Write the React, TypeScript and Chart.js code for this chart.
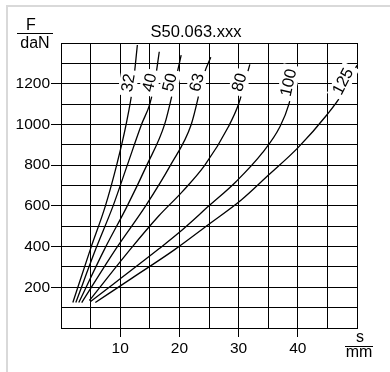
import React, { useEffect, useRef } from "react";
import { Chart, registerables } from "chart.js";
Chart.register(...registerables);

const chartTitle = "S50.063.xxx";
const yAxisTop = "F";
const yAxisBottom = "daN";
const xAxisTop = "s";
const xAxisBottom = "mm";

const xTickLabels = [10, 20, 30, 40];
const yTickLabels = [200, 400, 600, 800, 1000, 1200];

const bores = ["32", "40", "50", "63", "80", "100", "125"];

const s32 = [2.0, 5.0, 7.5, 9.4, 11.0, 12.2, 12.9];
const f32 = [125, 390, 600, 800, 1000, 1200, 1390];

const s40 = [2.5, 5.9, 8.8, 11.2, 13.6, 15.0, 15.8, 16.6];
const f40 = [125, 390, 600, 800, 1000, 1100, 1200, 1357];

const s50 = [3.0, 7.4, 11.2, 14.5, 17.5, 19.2, 20.3];
const f50 = [125, 390, 600, 800, 1000, 1200, 1340];

const s63 = [3.5, 9.3, 14.3, 18.5, 22.0, 24.2, 25.3];
const f63 = [125, 390, 600, 800, 1000, 1250, 1330];

const s80 = [4.8, 11.8, 16.5, 20.5, 24.3, 28.3, 30.0, 31.9];
const f80 = [135, 390, 550, 670, 800, 990, 1100, 1295];

const s100 = [5.0, 16.6, 20.0, 25.0, 29.6, 34.0, 37.0, 38.5, 39.8];
const f100 = [130, 390, 470, 600, 720, 860, 990, 1100, 1270];

const s125 = [5.8, 12.0, 19.2, 25.0, 30.5, 35.0, 40.0, 45.0, 47.5, 50.0];
const f125 = [125, 245, 385, 510, 630, 750, 885, 1050, 1150, 1290];

const strokes = [s32, s40, s50, s63, s80, s100, s125];
const forces = [f32, f40, f50, f63, f80, f100, f125];

const LABEL_AT = 1200;
const FONT = "'Liberation Sans', Arial, Helvetica, sans-serif";

const curveLabels = {
  id: "curveLabels",
  afterDatasetsDraw(chart: any) {
    const { ctx } = chart;
    const xs = chart.scales.x;
    const ys = chart.scales.y;
    chart.data.datasets.forEach((ds: any) => {
      const pts = ds.data as { x: number; y: number }[];
      let k = pts.findIndex((p) => p.y >= LABEL_AT);
      if (k < 1) k = pts.length - 1;
      const a = pts[k - 1];
      const b = pts[k];
      const t = (LABEL_AT - a.y) / (b.y - a.y);
      const xv = a.x + t * (b.x - a.x);
      const px = xs.getPixelForValue(xv);
      const py = ys.getPixelForValue(LABEL_AT);
      const ang = Math.atan2(
        ys.getPixelForValue(b.y) - ys.getPixelForValue(a.y),
        xs.getPixelForValue(b.x) - xs.getPixelForValue(a.x)
      );
      ctx.save();
      ctx.translate(px, py);
      ctx.rotate(ang);
      ctx.font = `16.5px ${FONT}`;
      const w = ctx.measureText(ds.label).width;
      ctx.fillStyle = "#fff";
      ctx.fillRect(-w / 2 - 4, -14, w + 8, 18);
      ctx.fillStyle = "#000";
      ctx.textAlign = "center";
      ctx.textBaseline = "alphabetic";
      ctx.fillText(ds.label, 0, 0);
      ctx.restore();
    });
  },
};

const axisTexts = {
  id: "axisTexts",
  afterDraw(chart: any) {
    const { ctx, chartArea } = chart;
    const { left, top, right, bottom } = chartArea;
    ctx.save();
    ctx.fillStyle = "#000";
    ctx.strokeStyle = "#000";
    ctx.lineWidth = 1;
    ctx.textAlign = "center";
    ctx.font = `16.5px ${FONT}`;
    ctx.textBaseline = "alphabetic";
    ctx.fillText(chartTitle, left + 135, top - 6);
    ctx.font = `16px ${FONT}`;
    ctx.textBaseline = "middle";
    ctx.fillText(yAxisTop, left - 30, top - 17);
    ctx.beginPath();
    ctx.moveTo(left - 44, top - 9.5);
    ctx.lineTo(left - 8, top - 9.5);
    ctx.stroke();
    ctx.fillText(yAxisBottom, left - 26, top + 1);
    ctx.fillText(xAxisTop, right + 3, bottom + 10);
    ctx.beginPath();
    ctx.moveTo(right - 12, bottom + 18.5);
    ctx.lineTo(right + 16, bottom + 18.5);
    ctx.stroke();
    ctx.fillText(xAxisBottom, right + 2, bottom + 25);
    ctx.restore();
  },
};

export default function App() {
  const ref = useRef<HTMLCanvasElement | null>(null);

  useEffect(() => {
    if (!ref.current) return;
    const datasets = bores.map((b, i) => ({
      label: b,
      data: strokes[i].map((s, j) => ({ x: s, y: forces[i][j] })),
      borderColor: "#000",
      borderWidth: 1.3,
      pointRadius: 0,
      fill: false,
      cubicInterpolationMode: "monotone" as const,
    }));
    const chart = new Chart(ref.current, {
      type: "line",
      data: { datasets },
      options: {
        animation: false,
        responsive: false,
        devicePixelRatio: 1,
        layout: { padding: { left: 0, top: 43, right: 33, bottom: 0 } },
        plugins: {
          legend: { display: false },
          tooltip: { enabled: false },
          title: { display: false },
        },
        scales: {
          x: {
            type: "linear",
            min: 0,
            max: 50,
            afterFit: (scale: any) => {
              scale.height = 44;
            },
            ticks: {
              stepSize: 5,
              autoSkip: false,
              maxRotation: 0,
              padding: 2,
              color: "#000",
              font: { family: FONT, size: 15.5 },
              callback: (v: any) => (xTickLabels.includes(Number(v)) ? String(v) : ""),
            },
            grid: {
              color: "#000",
              lineWidth: 1,
              tickLength: 9,
              tickColor: (c: any) =>
                c.tick && xTickLabels.includes(c.tick.value) ? "#000" : "rgba(0,0,0,0)",
            },
            border: { display: true, color: "#000", width: 1 },
          },
          y: {
            type: "linear",
            min: 0,
            max: 1400,
            afterFit: (scale: any) => {
              scale.width = 61;
            },
            ticks: {
              stepSize: 100,
              autoSkip: false,
              padding: 1,
              color: "#000",
              font: { family: FONT, size: 15.5 },
              callback: (v: any) => (yTickLabels.includes(Number(v)) ? String(v) : ""),
            },
            grid: {
              color: "#000",
              lineWidth: 1,
              tickLength: 10,
              tickColor: (c: any) =>
                c.tick && yTickLabels.includes(c.tick.value) ? "#000" : "rgba(0,0,0,0)",
            },
            border: { display: true, color: "#000", width: 1 },
          },
        },
      },
      plugins: [curveLabels, axisTexts],
    });
    return () => chart.destroy();
  }, []);

  return (
    <div style={{ position: "fixed", left: 0, top: 0, width: 390, height: 372, background: "#fff" }}>
      <div
        style={{
          position: "absolute",
          left: 6,
          top: 5,
          right: 0,
          bottom: 0,
          borderLeft: "2px solid #d9d9d9",
          borderTop: "2px solid #d9d9d9",
        }}
      />
      <canvas
        ref={ref}
        width={390}
        height={372}
        style={{ position: "absolute", left: 0, top: 0, width: 390, height: 372 }}
      />
    </div>
  );
}
